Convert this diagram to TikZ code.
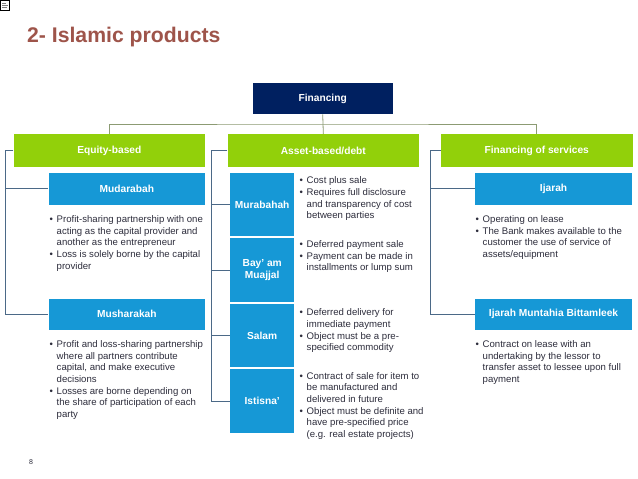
\documentclass[tikz,border=0pt]{standalone}
\usepackage{fontspec}
\setmainfont{Liberation Sans}
\definecolor{navy}{RGB}{0,32,96}
\definecolor{lime}{RGB}{146,208,10}
\definecolor{prodblue}{RGB}{22,152,214}
\definecolor{titlered}{RGB}{158,84,74}
\definecolor{busline}{RGB}{140,155,115}
\definecolor{sideline}{RGB}{75,105,135}
\definecolor{bodytext}{RGB}{45,45,60}
\newcommand{\bl}{\strut\makebox[7pt][l]{\textbullet}}
\newcommand{\ind}{\hspace*{7pt}}
\tikzset{
  hdr/.style={anchor=north west, fill=navy, text=white, inner sep=0pt,
    font=\fontsize{10.2}{12}\selectfont\bfseries},
  grp/.style={anchor=north west, fill=lime, text=white, inner sep=0pt,
    minimum width=191.7pt, minimum height=32.7pt,
    font=\fontsize{10.2}{12}\selectfont\bfseries},
  prod/.style={anchor=north west, fill=prodblue, text=white, inner sep=0pt,
    align=center, font=\fontsize{10.2}{12.5}\selectfont\bfseries},
  note/.style={anchor=north west, inner sep=0pt, align=left, text=bodytext,
    font=\fontsize{9.6}{11.7}\selectfont},
  bus/.style={draw=busline, line width=0.8pt},
  spoke/.style={draw=sideline, line width=0.8pt}
}
\begin{document}
\begin{tikzpicture}[x=1pt,y=-1pt]
  \useasboundingbox[fill=white] (0,0) rectangle (638,479);
  \draw[line width=0.5pt] (0.5,0.5) rectangle (9.5,10.5);
  \draw[gray, line width=0.4pt] (2,3) -- (6,3) (2,5) -- (8,5) (2,7) -- (7,7);
  \node[anchor=base west, inner sep=0pt, text=titlered,
    font=\fontsize{21.2}{24}\selectfont\bfseries] (title) at (27,42.5) {2- Islamic products};

  \node[hdr, minimum width=140.4pt, minimum height=31.3pt] (fin) at (252.3,82.7) {Financing};

  \node[grp] (eq) at (13.3,134) {Equity-based};
  \node[grp] (asset) at (227.3,134) {Asset-based/debt};
  \node[grp] (serv) at (440.7,134) {Financing of services};

  \node[prod, minimum width=156.7pt, minimum height=31.6pt] (mud) at (48.3,172.7) {Mudarabah};
  \node[prod, minimum width=156.7pt, minimum height=31.6pt] (mush) at (48.3,298.3) {Musharakah};

  \node[prod, minimum width=64pt, minimum height=63.5pt] (mur) at (230,172.5) {Murabahah};
  \node[prod, minimum width=64pt, minimum height=63.5pt] (bay) at (230,238) {Bay' am\\Muajjal};
  \node[prod, minimum width=64pt, minimum height=63.5pt] (sal) at (230,303.5) {Salam};
  \node[prod, minimum width=64pt, minimum height=63.5pt] (ist) at (230,369) {Istisna'};

  \node[prod, minimum width=156.7pt, minimum height=31.6pt] (ij) at (475,172.7) {Ijarah};
  \node[prod, minimum width=156.7pt, minimum height=31.6pt] (imb) at (475,298.3) {Ijarah Muntahia Bittamleek};

  \node[note] (mudtxt) at (49.5,214.1) {\bl Profit-sharing partnership with one\\\ind acting as the capital provider and\\\ind another as the entrepreneur\\\bl Loss is solely borne by the capital\\\ind provider};
  \node[note] (mushtxt) at (49.5,339.1) {\bl Profit and loss-sharing partnership\\\ind where all partners contribute\\\ind capital, and make executive\\\ind decisions\\\bl Losses are borne depending on\\\ind the share of participation of each\\\ind party};
  \node[note] (murtxt) at (299.5,175.5) {\bl Cost plus sale\\\bl Requires full disclosure\\\ind and transparency of cost\\\ind between parties};
  \node[note] (baytxt) at (299.5,239.1) {\bl Deferred payment sale\\\bl Payment can be made in\\\ind installments or lump sum};
  \node[note] (saltxt) at (299.5,307.5) {\bl Deferred delivery for\\\ind immediate payment\\\bl Object must be a pre-\\\ind specified commodity};
  \node[note] (isttxt) at (299.5,370.8) {\bl Contract of sale for item to\\\ind be manufactured and\\\ind delivered in future\\\bl Object must be definite and\\\ind have pre-specified price\\\ind (e.g. real estate projects)};
  \node[note] (ijtxt) at (475.5,214.1) {\bl Operating on lease\\\bl The Bank makes available to the\\\ind customer the use of service of\\\ind assets/equipment};
  \node[note] (imbtxt) at (475.5,339.1) {\bl Contract on lease with an\\\ind undertaking by the lessor to\\\ind transfer asset to lessee upon full\\\ind payment};

  \node[anchor=center, inner sep=0pt, text=bodytext, font=\fontsize{7}{8}\selectfont] (page) at (31,462.3) {8};

  \coordinate (busy) at (0,124);
  \coordinate (eqsp) at (5.5,0);
  \coordinate (assetsp) at (211,0);
  \coordinate (servsp) at (430,0);

  \draw[bus] (fin.south) -- (asset.north);
  \draw[bus] (eq.north) |- (fin.south |- busy) -| (serv.north);

  \draw[spoke] (eq.west) -- (eq.west -| eqsp) |- (mud.west);
  \draw[spoke] (eq.west -| eqsp) |- (mush.west);
  \draw[spoke] (asset.west) -- (asset.west -| assetsp) |- (mur.west);
  \draw[spoke] (asset.west -| assetsp) |- (bay.west);
  \draw[spoke] (asset.west -| assetsp) |- (sal.west);
  \draw[spoke] (asset.west -| assetsp) |- (ist.west);
  \draw[spoke] (serv.west) -- (serv.west -| servsp) |- (ij.west);
  \draw[spoke] (serv.west -| servsp) |- (imb.west);
\end{tikzpicture}
\end{document}
